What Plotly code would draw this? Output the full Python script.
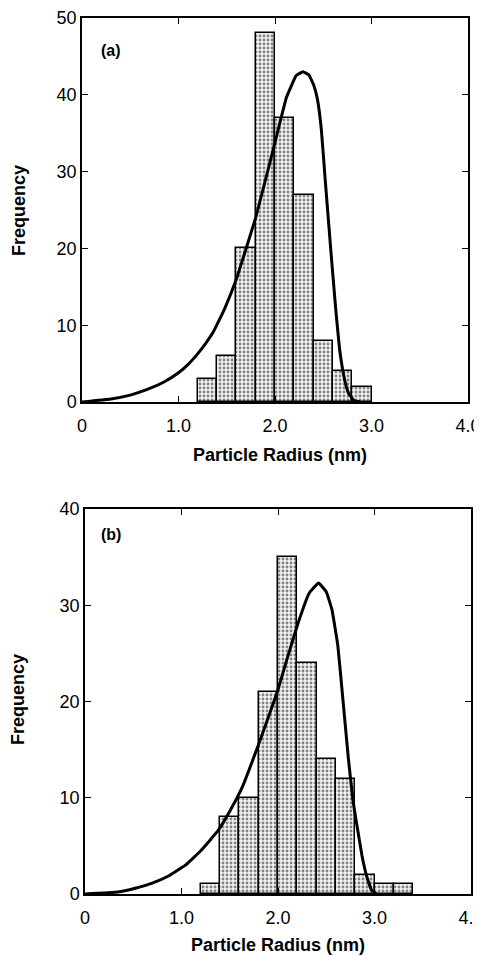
import plotly.graph_objects as go

# histogram bins (nm), width 0.2
bins_a = [1.3, 1.5, 1.7, 1.9, 2.1, 2.3, 2.5, 2.7, 2.9]
freq_a = [3, 6, 20, 48, 37, 27, 8, 4, 2]
bins_b = [1.3, 1.5, 1.7, 1.9, 2.1, 2.3, 2.5, 2.7, 2.9, 3.1, 3.3]
freq_b = [1, 8, 10, 21, 35, 24, 14, 12, 2, 1, 1]

# fitted distribution curves
curve_a_x = [0, 0.3, 0.5, 0.67, 0.85, 1.0, 1.1, 1.2, 1.28, 1.36, 1.48, 1.6, 1.8, 1.98, 2.12, 2.22, 2.29, 2.35, 2.40, 2.44, 2.48, 2.52, 2.58, 2.63, 2.67, 2.72, 2.76, 2.82, 2.88]
curve_a_y = [0, 0.4, 0.9, 1.6, 2.6, 3.8, 4.9, 6.3, 7.6, 9.1, 12.2, 16, 24, 32.8, 39.7, 42.5, 43, 42.6, 41.3, 39.4, 35.5, 29, 19.5, 12, 6.8, 3, 1.2, 0.2, 0]
curve_b_x = [0, 0.34, 0.52, 0.69, 0.87, 1.04, 1.2, 1.38, 1.5, 1.63, 1.79, 1.99, 2.09, 2.21, 2.32, 2.42, 2.50, 2.56, 2.62, 2.67, 2.73, 2.78, 2.82, 2.87, 2.92, 2.97, 3.02]
curve_b_y = [0, 0.2, 0.6, 1.1, 1.9, 3.0, 4.5, 6.6, 8.6, 11.1, 15.3, 20.9, 24.3, 28.2, 31.2, 32.3, 31.4, 29.5, 25.8, 20.5, 14.0, 9.5, 7.0, 4.0, 1.8, 0.4, 0]

x_ticks = [0, 1, 2, 3, 4]
x_ticktext = ['0', '1.0', '2.0', '3.0', '4.0']

W, H = 474, 948
FONT = 'Liberation Sans, Arial, sans-serif'

bar_style = dict(
    width=0.2,
    marker=dict(
        color='white',
        line=dict(color='black', width=1.5),
        pattern=dict(shape='.', fgcolor='#111', bgcolor='#f2f2f2', size=4, solidity=0.4),
    ),
    showlegend=False,
)
line_style = dict(color='black', width=3, shape='spline', smoothing=0.3)

fig = go.Figure()
fig.add_trace(go.Bar(x=bins_a, y=freq_a, xaxis='x', yaxis='y', **bar_style))
fig.add_trace(go.Scatter(x=curve_a_x, y=curve_a_y, mode='lines', line=line_style,
                         xaxis='x', yaxis='y', showlegend=False))
fig.add_trace(go.Bar(x=bins_b, y=freq_b, xaxis='x2', yaxis='y2', **bar_style))
fig.add_trace(go.Scatter(x=curve_b_x, y=curve_b_y, mode='lines', line=line_style,
                         xaxis='x2', yaxis='y2', showlegend=False))

axis_common = dict(showline=True, linecolor='black', linewidth=1.5, mirror='ticks', ticks='inside',
                   ticklen=6, tickwidth=1, tickcolor='black', showgrid=False, zeroline=False,
                   automargin=False, tickfont=dict(family=FONT, size=18, color='black'))

fig.update_layout(
    width=W, height=H,
    margin=dict(l=0, r=0, t=0, b=0),
    paper_bgcolor='white', plot_bgcolor='white',
    bargap=0,
    xaxis=dict(domain=[74 / W, 460 / W], anchor='y', range=[0, 4], tickvals=x_ticks, ticktext=x_ticktext,
               ticklabelstandoff=7, ticklabeloverflow='allow', **axis_common),
    yaxis=dict(domain=[1 - 394 / H, 1 - 10 / H], anchor='x', range=[0, 50], dtick=10, **axis_common),
    xaxis2=dict(domain=[77 / W, 463 / W], anchor='y2', range=[0, 4], tickvals=x_ticks, ticktext=x_ticktext,
                ticklabelstandoff=7, ticklabeloverflow='allow', **axis_common),
    yaxis2=dict(domain=[1 - 886 / H, 1 - 501 / H], anchor='x2', range=[0, 40], dtick=10, **axis_common),
)

title_font = dict(family=FONT, size=18, color='black')
notes = [
    dict(text='<b>Particle Radius (nm)</b>', x=272 / W, y=1 - 447 / H),
    dict(text='<b>Particle Radius (nm)</b>', x=270 / W, y=1 - 937 / H),
    dict(text='<b>Frequency</b>', x=11 / W, y=1 - 203 / H, textangle=-90),
    dict(text='<b>Frequency</b>', x=10 / W, y=1 - 692 / H, textangle=-90),
]
for n in notes:
    fig.add_annotation(xref='paper', yref='paper', showarrow=False, font=title_font,
                       xanchor='center', yanchor='middle', **n)

fig.add_annotation(text='<b>(a)</b>', xref='x', yref='y', x=0.18, y=45.8, showarrow=False,
                   xanchor='left', yanchor='middle', font=dict(family=FONT, size=16, color='black'))
fig.add_annotation(text='<b>(b)</b>', xref='x2', yref='y2', x=0.14, y=37.3, showarrow=False,
                   xanchor='left', yanchor='middle', font=dict(family=FONT, size=16, color='black'))

fig.write_html('out.html')
